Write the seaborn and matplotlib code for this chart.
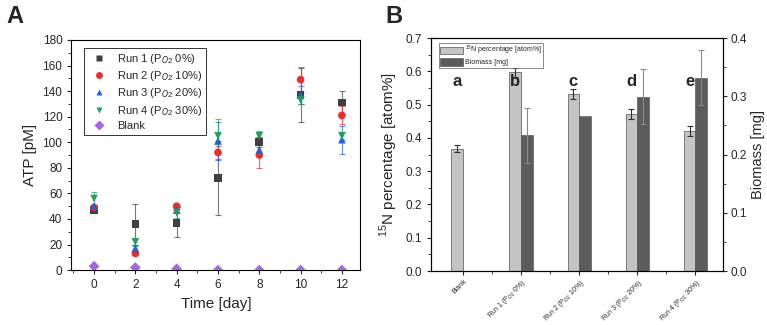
import numpy as np
import pandas as pd
import seaborn as sns
import matplotlib.pyplot as plt

# --- panel A data ---
days = [0, 2, 4, 6, 8, 10, 12]
run1 = [47, 36, 37, 72, 100, 137, 131]
run1_err = [2, 16, 11, 29, 4, 21, 9]
run2 = [49, 13, 50, 92, 90, 149, 121]
run2_err = [1, 1, 1, 5, 10, 10, 7]
run3 = [50, 17, 47, 101, 94, 137, 102]
run3_err = [1, 3, 2, 15, 4, 7, 11]
run4 = [56, 22, 45, 105, 105, 133, 105]
run4_err = [5, 3, 4, 13, 4, 3, 3]
blank = [3, 2, 1, 0, 0, 0, 0]
blank_err = [0, 0, 0, 0, 0, 0, 0]

# --- panel B data ---
groups = ['Blank', 'Run 1 (P$_{O2}$ 0%)', 'Run 2 (P$_{O2}$ 10%)',
          'Run 3 (P$_{O2}$ 20%)', 'Run 4 (P$_{O2}$ 30%)']
n15 = [0.368, 0.597, 0.532, 0.471, 0.421]
n15_err = [0.010, 0.013, 0.016, 0.015, 0.015]
biomass = [np.nan, 0.233, 0.266, 0.299, 0.332]
biomass_err = [np.nan, 0.047, 0.0, 0.047, 0.047]
letters = ['a', 'b', 'c', 'd', 'e']

sns.set_theme(style='ticks')
plt.rcParams['font.family'] = ['Liberation Sans', 'DejaVu Sans']
plt.rcParams['mathtext.fontset'] = 'custom'
plt.rcParams['mathtext.rm'] = 'Liberation Sans'

fig = plt.figure(figsize=(7.67, 3.25), dpi=100)
axA = fig.add_axes([0.093, 0.169, 0.377, 0.708])
axB = fig.add_axes([0.562, 0.166, 0.381, 0.717])

# ---------------- A ----------------
series = [
    ('Run 1 (P$_{O2}$ 0%)', run1, run1_err, '#404040', 's'),
    ('Run 2 (P$_{O2}$ 10%)', run2, run2_err, '#ee2a2a', 'o'),
    ('Run 3 (P$_{O2}$ 20%)', run3, run3_err, '#2060d8', '^'),
    ('Run 4 (P$_{O2}$ 30%)', run4, run4_err, '#20a060', 'v'),
    ('Blank', blank, blank_err, '#a865e0', 'D'),
]
rows = []
for name, vals, errs, col, mk in series:
    for d, v, e in zip(days, vals, errs):
        rows.append({'day': d, 'atp': v, 'err': e, 'run': name})
dfA = pd.DataFrame(rows)

for name, vals, errs, col, mk in series:
    if name != 'Blank':
        axA.errorbar(days, vals, yerr=errs, fmt='none', ecolor=col, elinewidth=0.8,
                     capsize=2.5, capthick=0.8, alpha=0.7, zorder=2)

sns.scatterplot(data=dfA, x='day', y='atp', hue='run', style='run',
                palette={s[0]: s[3] for s in series},
                markers={s[0]: s[4] for s in series},
                s=30, edgecolor='none', ax=axA, zorder=3)

axA.set_xlim(-1.1, 12.9)
axA.set_ylim(0, 180)
axA.set_xticks(days)
axA.set_yticks(range(0, 181, 20))
axA.set_xticks(range(-1, 13, 2), minor=True)
axA.set_yticks(range(10, 180, 20), minor=True)
axA.tick_params(labelsize=8.5, length=3, width=0.8, direction='out')
axA.tick_params(which='minor', length=2, width=0.6)
axA.set_xlabel('Time [day]', fontsize=11, labelpad=4)
axA.set_ylabel('ATP [pM]', fontsize=11, labelpad=4)
for sp in axA.spines.values():
    sp.set_linewidth(0.8)
    sp.set_color('black')
leg = axA.legend(loc='upper left', bbox_to_anchor=(0.025, 0.99), fontsize=8,
                 frameon=True, fancybox=False, edgecolor='black', handletextpad=0.6,
                 borderpad=0.35, labelspacing=0.3, markerscale=0.9)
leg.get_frame().set_linewidth(0.7)
fig.text(0.008, 0.93, 'A', fontsize=17, fontweight='bold')

# ---------------- B ----------------
x = np.arange(len(groups))
w = 0.2
axB.bar(x - w / 2, n15, width=w, color='#c4c4c4', edgecolor='#7a7a7a', linewidth=0.7,
        label='$^{15}$N percentage [atom%]', zorder=2)
axB.errorbar(x - w / 2, n15, yerr=n15_err, fmt='none', ecolor='#303030', elinewidth=0.8,
             capsize=2.5, capthick=0.8, zorder=3)
axB2 = axB.twinx()
axB2.bar(x + w / 2, biomass, width=w, color='#5c5c5c', edgecolor='#5c5c5c', linewidth=0.5,
         label='Biomass [mg]', zorder=2)
axB2.errorbar(x + w / 2, biomass, yerr=biomass_err, fmt='none', ecolor='#8a8a8a',
              elinewidth=0.8, capsize=2.5, capthick=0.8, zorder=3)

for xi, lt in zip(x, letters):
    axB.text(xi - w / 2, 0.568, lt, fontsize=12, fontweight='bold', ha='center', va='center')

axB.set_xlim(-0.55, 4.48)
axB.set_ylim(0, 0.7)
axB2.set_ylim(0, 0.4)
axB.set_yticks(np.arange(0, 0.71, 0.1))
axB.set_yticks(np.arange(0.05, 0.7, 0.1), minor=True)
axB2.set_yticks(np.arange(0, 0.41, 0.1))
axB2.set_yticks(np.arange(0.05, 0.4, 0.1), minor=True)
axB.set_xticks(x)
axB.set_xticks(x[:-1] + 0.5, minor=True)
axB.set_xticklabels(groups, rotation=45, ha='right', rotation_mode='anchor', fontsize=5)
axB.tick_params(axis='y', labelsize=8.5, length=3, width=0.8)
axB2.tick_params(axis='y', labelsize=8.5, length=3, width=0.8, pad=2)
axB.tick_params(axis='x', length=3, width=0.8, pad=2)
axB.tick_params(which='minor', length=2, width=0.6)
axB2.tick_params(which='minor', length=2, width=0.6)
axB.set_ylabel('$^{15}$N percentage [atom%]', fontsize=11, labelpad=4)
axB2.set_ylabel('Biomass [mg]', fontsize=10.5, labelpad=3)
for a in (axB, axB2):
    for sp in a.spines.values():
        sp.set_linewidth(0.8)
        sp.set_color('black')

h1, l1 = axB.get_legend_handles_labels()
h2, l2 = axB2.get_legend_handles_labels()
legB = axB2.legend(h1 + h2, l1 + l2, loc='upper left', bbox_to_anchor=(0.015, 0.995),
                   fontsize=5, frameon=True, fancybox=False, edgecolor='#555555',
                   handlelength=3.2, handleheight=1.2, borderpad=0.2, labelspacing=0.15,
                   handletextpad=0.3)
legB.get_frame().set_linewidth(0.6)
fig.text(0.503, 0.93, 'B', fontsize=17, fontweight='bold')

fig.savefig('out.png', dpi=100)
